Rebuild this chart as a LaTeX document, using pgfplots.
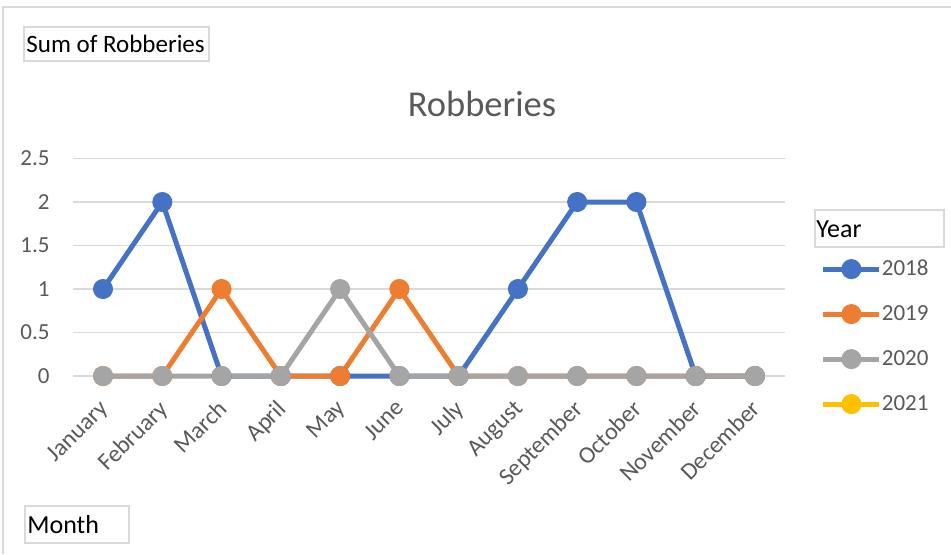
\documentclass[border=0pt]{standalone}
\usepackage{fontspec}
\setmainfont{Carlito}
\usepackage{pgfplots}
\pgfplotsset{compat=1.18}
\definecolor{c18}{HTML}{4472C4}
\definecolor{c19}{HTML}{ED7D31}
\definecolor{c20}{HTML}{A5A5A5}
\definecolor{c21}{HTML}{FFC000}
\definecolor{txt}{RGB}{89,89,89}
\definecolor{gridc}{RGB}{217,217,217}
\begin{document}
\begin{tikzpicture}[x=0.5pt,y=-0.5pt]
\useasboundingbox (0,0) rectangle (951,554);
\draw[gridc, line width=0.75pt] (3,554) -- (3,7) -- (951,7);
% field buttons
\draw[gridc, line width=0.75pt] (24,27) rectangle (209,61);
\node[anchor=west, inner sep=0pt, font=\fontsize{12.5}{14}\selectfont] at (26,44) {Sum of Robberies};
\draw[gridc, line width=0.75pt] (25,506) rectangle (129,543);
\node[anchor=west, inner sep=0pt, font=\fontsize{13}{15}\selectfont] at (27,524.5) {Month};
\draw[gridc, line width=0.75pt] (815,210) rectangle (944,247);
\node[anchor=west, inner sep=0pt, font=\fontsize{13}{15}\selectfont] at (816,229) {Year};
% title
\node[font=\fontsize{18.25}{20}\selectfont, text=txt] at (482,104) {Robberies};
\begin{axis}[
  at={(36.7pt,-188pt)}, anchor=south west,
  scale only axis, width=355.6pt, height=108.75pt,
  xmin=-0.5, xmax=11.5, ymin=0, ymax=2.5,
  ytick={0,0.5,1,1.5,2,2.5},
  xtick={0,...,11},
  xticklabels={January,February,March,April,May,June,July,August,September,October,November,December},
  ymajorgrids, grid style={gridc, line width=0.75pt},
  axis line style={draw=none},
  major tick length=0pt,
  /pgf/number format/assume math mode=true,
  y tick label style={font=\fontsize{11.5}{13}\selectfont, text=txt, inner sep=0pt, xshift=-11.7pt},
  x tick label style={font=\fontsize{12}{13}\selectfont, text=txt, inner sep=0pt, xshift=-2.5pt, yshift=-11pt, rotate=45, anchor=north east},
  clip=false,
  legend style={draw=none, fill=none, inner sep=0pt, outer sep=0pt,
    at={(1.051,0.595)}, anchor=north west,
    font=\fontsize{11.5}{13}\selectfont, text=txt,
    nodes={inner sep=0pt, minimum height=22.5pt},
    row sep=0pt, column sep=0pt},
  legend cell align=left,
  legend image code/.code={
    \draw[mark repeat=2, mark phase=2] plot coordinates {(0pt,0pt) (14pt,0pt) (28pt,0pt)};
  },
  every axis plot/.append style={line width=2.5pt, mark=*, mark size=3.75pt, line join=round, mark options={solid}},
]
\addplot[c18, mark options={fill=c18}] coordinates {(0,1) (1,2) (2,0) (3,0) (4,0) (5,0) (6,0) (7,1) (8,2) (9,2) (10,0) (11,0)};
\addlegendentry{2018}
\addplot[c19, mark options={fill=c19}] coordinates {(0,0) (1,0) (2,1) (3,0) (4,0) (5,1) (6,0) (7,0) (8,0) (9,0) (10,0) (11,0)};
\addlegendentry{2019}
\addplot[c20, mark options={fill=c20}] coordinates {(0,0) (1,0) (2,0) (3,0) (4,1) (5,0) (6,0) (7,0) (8,0) (9,0) (10,0) (11,0)};
\addlegendentry{2020}
\addlegendimage{c21, line width=2.5pt, mark=*, mark size=3.75pt, mark options={fill=c21}}
\addlegendentry{2021}
\end{axis}
\end{tikzpicture}
\end{document}
